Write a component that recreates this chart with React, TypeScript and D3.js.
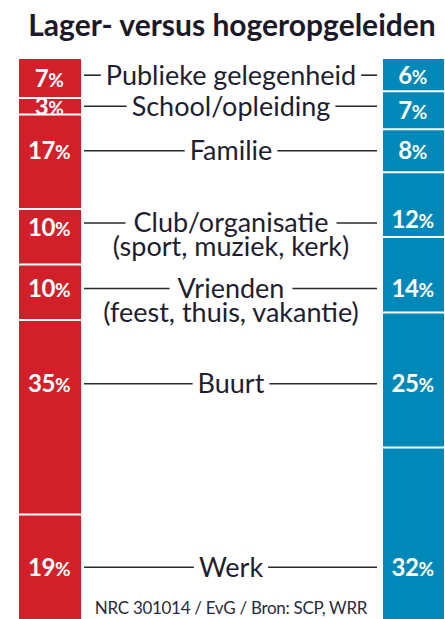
import React, { useEffect, useRef } from "react";
import * as d3 from "d3";

const categories = [
  ["Publieke gelegenheid"],
  ["School/opleiding"],
  ["Familie"],
  ["Club/organisatie", "(sport, muziek, kerk)"],
  ["Vrienden", "(feest, thuis, vakantie)"],
  ["Buurt"],
  ["Werk"],
];
const lagerValues = [7, 3, 17, 10, 10, 35, 19];
const hogerValues = [6, 7, 8, 12, 14, 25, 32];
const title = "Lager- versus hogeropgeleiden";
const footer = "NRC 301014 / EvG / Bron: SCP, WRR";

const W = 445;
const H = 619;
const RED = "#d2202b";
const BLUE = "#0088b8";
const FONT = "Lato, 'Open Sans', sans-serif";

export default function App() {
  const ref = useRef<SVGSVGElement>(null);

  useEffect(() => {
    const svg = d3.select(ref.current);
    svg.selectAll("*").remove();

    const top = 59;
    const bottom = 620;
    const left = { x0: 19, x1: 81 };
    const right = { x0: 383, x1: 444 };

    const stack = (vals: number[]) => {
      const y = d3.scaleLinear().domain([0, d3.sum(vals)]).range([top, bottom]);
      let acc = 0;
      return vals.map((v) => {
        const s = { v, y0: y(acc), y1: y(acc + v) };
        acc += v;
        return s;
      });
    };
    const L = stack(lagerValues);
    const R = stack(hogerValues);

    // connector y: centre of the overlap of both segments
    const conY = categories.map((_, i) => {
      const a = Math.max(L[i].y0, R[i].y0);
      const b = Math.min(L[i].y1, R[i].y1);
      return a < b ? (a + b) / 2 : (L[i].y0 + L[i].y1 + R[i].y0 + R[i].y1) / 4;
    });

    svg
      .append("text")
      .attr("x", 232)
      .attr("y", 36)
      .attr("text-anchor", "middle")
      .attr("font-family", FONT)
      .attr("font-weight", 700)
      .attr("font-size", 30)
      .attr("fill", "#1a1a2a")
      .text(title);

    const drawBar = (segs: typeof L, bx: { x0: number; x1: number }, color: string) => {
      const g = svg.append("g");
      g.selectAll("rect")
        .data(segs)
        .join("rect")
        .attr("x", bx.x0)
        .attr("y", (d) => d.y0)
        .attr("width", bx.x1 - bx.x0)
        .attr("height", (d) => Math.max(0, d.y1 - d.y0))
        .attr("fill", color);
      g.selectAll("line")
        .data(segs.slice(1))
        .join("line")
        .attr("x1", bx.x0)
        .attr("x2", bx.x1)
        .attr("y1", (d) => d.y0)
        .attr("y2", (d) => d.y0)
        .attr("stroke", "#fff")
        .attr("stroke-width", 2);
      const cx = (bx.x0 + bx.x1) / 2 - 1;
      segs.forEach((d, i) => {
        const h = d.y1 - d.y0;
        let ty = conY[i];
        if (h < 40) ty = (d.y0 + d.y1) / 2;
        else ty = Math.max(d.y0 + 18, Math.min(d.y1 - 18, ty));
        const t = g
          .append("text")
          .attr("x", cx)
          .attr("y", ty)
          .attr("dy", "0.36em")
          .attr("text-anchor", "middle")
          .attr("font-family", FONT)
          .attr("font-weight", 700)
          .attr("fill", "#fff")
          .attr("font-size", 24)
          .attr("letter-spacing", -0.5);
        t.append("tspan").text(String(d.v));
        t.append("tspan").attr("font-size", 19).text("%");
      });
    };
    drawBar(L, left, RED);
    drawBar(R, right, BLUE);

    const cx = 231;
    categories.forEach((lines, i) => {
      const y = conY[i];
      const t = svg
        .append("text")
        .attr("font-family", FONT)
        .attr("font-size", 27)
        .attr("fill", "#1e1e30")
        .attr("text-anchor", "middle");
      lines.forEach((ln, j) => {
        t.append("tspan")
          .attr("x", cx)
          .attr("y", y + j * 24)
          .attr("dy", "0.35em")
          .text(ln);
      });
      const first = t.select("tspan").node() as SVGTextContentElement;
      const w = first.getComputedTextLength();
      const gap = lines.length > 1 ? 8 : 5;
      const lx2 = cx - w / 2 - gap;
      const rx1 = cx + w / 2 + gap;
      svg
        .append("line")
        .attr("x1", left.x1 + 3)
        .attr("x2", lx2)
        .attr("y1", y)
        .attr("y2", y)
        .attr("stroke", "#2a2a2a")
        .attr("stroke-width", 1.6);
      svg
        .append("line")
        .attr("x1", rx1)
        .attr("x2", right.x0 - 6)
        .attr("y1", y)
        .attr("y2", y)
        .attr("stroke", "#2a2a2a")
        .attr("stroke-width", 1.6);
    });

    svg
      .append("text")
      .attr("x", 231)
      .attr("y", 614)
      .attr("text-anchor", "middle")
      .attr("font-family", FONT)
      .attr("font-size", 17)
      .attr("letter-spacing", -0.3)
      .attr("fill", "#2a2a40")
      .text(footer);
  }, []);

  return (
    <svg
      ref={ref}
      width={W}
      height={H}
      style={{ position: "absolute", left: 0, top: 0, background: "#fff" }}
    />
  );
}
